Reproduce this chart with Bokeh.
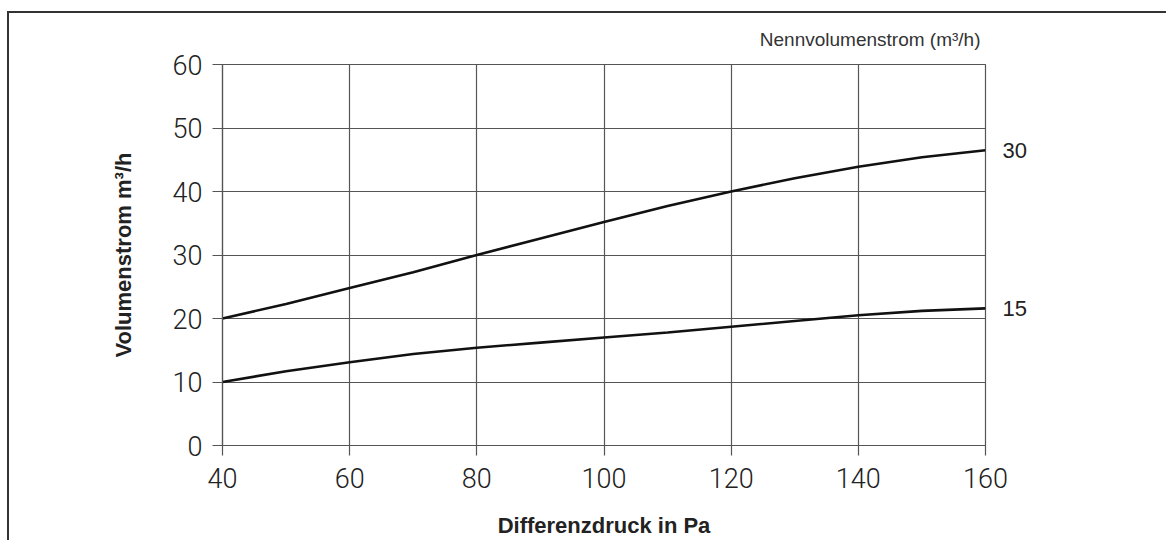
from bokeh.plotting import figure
from bokeh.models import FixedTicker, Range1d, LinearAxis, Title
from bokeh.embed import file_html
from bokeh.resources import INLINE

# Data
pressure = [40, 50, 60, 70, 80, 90, 100, 110, 120, 130, 140, 150, 160]
flow_30 = [20, 22.3, 24.8, 27.3, 30, 32.6, 35.2, 37.7, 40, 42.1, 43.9, 45.4, 46.5]
flow_15 = [10, 11.7, 13.1, 14.4, 15.4, 16.2, 17.0, 17.8, 18.7, 19.6, 20.5, 21.2, 21.6]
x_ticks = [40, 60, 80, 100, 120, 140, 160]
y_ticks = [0, 10, 20, 30, 40, 50, 60]
series_labels = ["30", "15"]

GRID = "#555555"
TXT = "#222222"

p = figure(width=1159, height=529, output_backend="svg", toolbar_location=None,
           x_range=Range1d(40, 160), y_range=Range1d(0, 60),
           min_border_left=213, min_border_right=183, min_border_top=51, min_border_bottom=97)
p.styles = {"border-left": "2px solid #333333", "border-top": "2px solid #333333",
            "margin-top": "11px", "margin-left": "7px"}

p.outline_line_color = GRID
p.outline_line_width = 1.2
p.background_fill_color = "white"
p.border_fill_color = "white"

for ax in (p.xaxis[0], p.yaxis[0]):
    ax.axis_line_color = GRID
    ax.axis_line_width = 1.2
    ax.major_tick_line_color = GRID
    ax.major_tick_line_width = 1.2
    ax.major_tick_out = 10
    ax.major_tick_in = 0
    ax.minor_tick_line_color = None
    ax.major_label_text_font = "Roboto Light"
    ax.major_label_text_font_size = "27px"
    ax.major_label_text_color = TXT
    ax.axis_label_text_color = TXT
    ax.axis_label_text_font = "Liberation Sans"
    ax.axis_label_text_font_style = "bold"
    ax.axis_label_text_font_size = "22px"

p.xaxis.ticker = FixedTicker(ticks=x_ticks)
p.yaxis.ticker = FixedTicker(ticks=y_ticks)
p.xaxis.major_label_standoff = 12
p.yaxis.major_label_standoff = 10
p.xaxis.axis_label = "Differenzdruck in Pa"
p.yaxis.axis_label = "Volumenstrom m³/h"
p.xaxis.axis_label_standoff = 22
p.yaxis.axis_label_standoff = 34

for g in (p.xgrid[0], p.ygrid[0]):
    g.grid_line_color = GRID
    g.grid_line_width = 1.2
p.xgrid.ticker = FixedTicker(ticks=x_ticks)
p.ygrid.ticker = FixedTicker(ticks=y_ticks)

p.line(pressure, flow_30, line_color="#111111", line_width=2.6)
p.line(pressure, flow_15, line_color="#111111", line_width=2.6)

# Curve labels at the right end of each curve
ends = [flow_30[-1], flow_15[-1]]
right_ax = LinearAxis(ticker=FixedTicker(ticks=ends),
                      major_label_overrides={e: lab for e, lab in zip(ends, series_labels)})
right_ax.axis_line_color = None
right_ax.major_tick_line_color = None
right_ax.minor_tick_line_color = None
right_ax.major_label_standoff = 11
right_ax.major_label_text_font = "Liberation Sans"
right_ax.major_label_text_font_size = "22px"
right_ax.major_label_text_color = TXT
p.add_layout(right_ax, "right")

p.add_layout(Title(text="Nennvolumenstrom (m³/h)", align="right", offset=5, standoff=25,
                   vertical_align="top",
                   text_font="Liberation Sans", text_font_size="19px",
                   text_font_style="normal", text_color="#333333"), "above")

open("out.html", "w").write(file_html(p, INLINE))
